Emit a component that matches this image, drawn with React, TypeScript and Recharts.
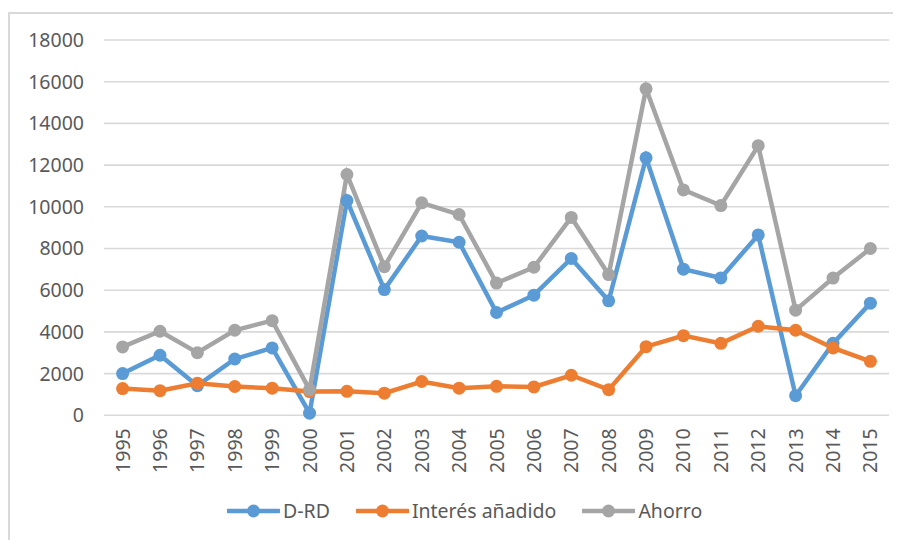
import { CartesianGrid, Legend, Line, LineChart, XAxis, YAxis } from 'recharts'

// Años del eje X.
const years = [
  '1995', '1996', '1997', '1998', '1999', '2000', '2001', '2002', '2003', '2004', '2005',
  '2006', '2007', '2008', '2009', '2010', '2011', '2012', '2013', '2014', '2015',
]

const dRd = [
  2000, 2880, 1420, 2700, 3230, 100, 10300, 6030, 8600, 8300, 4930,
  5760, 7520, 5490, 12350, 7010, 6590, 8650, 940, 3450, 5380,
]

const interes = [
  1280, 1180, 1540, 1380, 1300, 1140, 1150, 1060, 1620, 1300, 1390,
  1360, 1920, 1230, 3290, 3820, 3450, 4270, 4080, 3230, 2590,
]

const ahorro = [
  3280, 4030, 3000, 4080, 4540, 1230, 11550, 7130, 10190, 9630, 6340,
  7100, 9490, 6750, 15660, 10810, 10060, 12930, 5040, 6580, 8000,
]

const yTicks = [0, 2000, 4000, 6000, 8000, 10000, 12000, 14000, 16000, 18000]

const SERIES = [
  { key: 'dRd', name: 'D-RD', color: '#5B9BD5' },
  { key: 'interes', name: 'Interés añadido', color: '#ED7D31' },
  { key: 'ahorro', name: 'Ahorro', color: '#A5A5A5' },
]

const data = years.map((year, i) => ({
  year,
  dRd: dRd[i],
  interes: interes[i],
  ahorro: ahorro[i],
}))

const FONT = '"Noto Sans", sans-serif'
const TEXT = '#595959'

function YearTick({ x, y, payload }: any) {
  return (
    <text
      x={x}
      y={y}
      transform={`rotate(-90, ${x}, ${y})`}
      textAnchor="end"
      dy="0.36em"
      fill={TEXT}
      fontSize={19.5}
      fontFamily={FONT}
    >
      {payload.value}
    </text>
  )
}

function LegendContent() {
  return (
    <div style={{ display: 'flex', justifyContent: 'flex-start', fontFamily: FONT, fontSize: 19.5, color: TEXT }}>
      {SERIES.map((s) => (
        <div key={s.key} style={{ display: 'flex', alignItems: 'center', marginRight: 26 }}>
          <svg width={53} height={16} style={{ marginRight: 3 }}>
            <line x1={1} y1={8} x2={52} y2={8} stroke={s.color} strokeWidth={4.5} strokeLinecap="round" />
            <circle cx={26.5} cy={8} r={6.5} fill={s.color} />
          </svg>
          <span>{s.name}</span>
        </div>
      ))}
    </div>
  )
}

export default function App() {
  return (
    <div style={{ position: 'relative', width: 893, height: 532, overflow: 'hidden' }}>
      <div
        style={{
          position: 'absolute',
          left: 0,
          top: 4,
          width: 1000,
          height: 1000,
          border: '2px solid #D9D9D9',
          boxSizing: 'border-box',
        }}
      />
      <LineChart
        width={893}
        height={532}
        data={data}
        margin={{ top: 32, right: 12, bottom: 44.7, left: 0 }}
        style={{ position: 'absolute', left: 0, top: 0 }}
      >
        <CartesianGrid vertical={false} stroke="#D9D9D9" strokeWidth={1.6} />
        <XAxis
          dataKey="year"
          height={80}
          axisLine={false}
          tickLine={false}
          interval={0}
          padding={{ left: 18.6, right: 18.6 }}
          tick={<YearTick />}
          tickMargin={7}
        />
        <YAxis
          width={96}
          domain={[0, 18000]}
          ticks={yTicks}
          axisLine={false}
          tickLine={false}
          tickMargin={14}
          tick={{ fill: TEXT, fontSize: 19.5, fontFamily: FONT }}
        />
        {SERIES.map((s) => (
          <Line
            key={s.key}
            dataKey={s.key}
            name={s.name}
            stroke={s.color}
            strokeWidth={4.5}
            dot={{ r: 6.5, fill: s.color, stroke: 'none' }}
            activeDot={false}
            isAnimationActive={false}
          />
        ))}
        <Legend
          layout="vertical"
          verticalAlign="middle"
          align="center"
          content={<LegendContent />}
          wrapperStyle={{ left: 219, top: 489, width: 600 }}
        />
      </LineChart>
    </div>
  )
}
